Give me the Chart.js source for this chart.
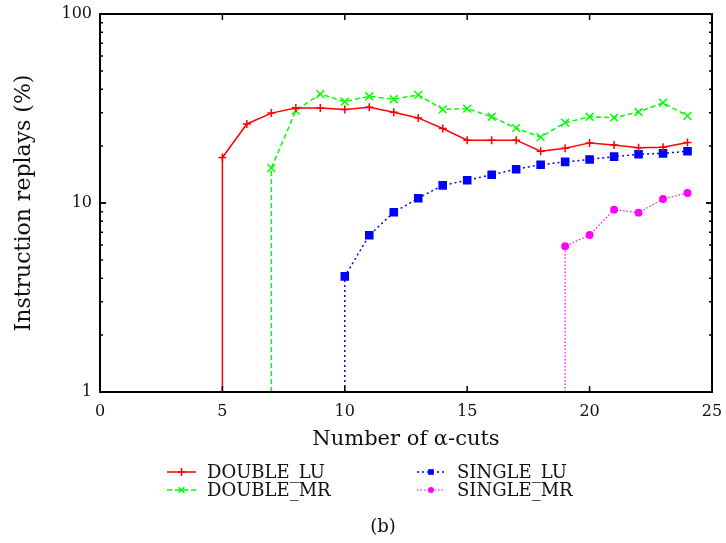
<!DOCTYPE html>
<html>
<head>
<meta charset="utf-8">
<script src="https://cdn.jsdelivr.net/npm/chart.js@4.4.1/dist/chart.umd.min.js"></script>
<style>
  html, body { margin: 0; padding: 0; background: #fff; }
  #wrap { width: 726px; height: 543px; }
</style>
</head>
<body>
<div id="wrap"><canvas id="chart"></canvas></div>
<script>
// number of alpha-cuts (x) and instruction replays in % (y), per configuration
const cutsDoubleLU = [5, 6, 7, 8, 9, 10, 11, 12, 13, 14, 15, 16, 17, 18, 19, 20, 21, 22, 23, 24];
const doubleLU = [17.4, 26.2, 29.9, 31.8, 31.8, 31.2, 32.1, 30.2, 28.2, 24.8, 21.5, 21.5, 21.5, 18.8, 19.5, 20.8, 20.3, 19.6, 19.7, 20.9];

const cutsDoubleMR = [7, 8, 9, 10, 11, 12, 13, 14, 15, 16, 17, 18, 19, 20, 21, 22, 23, 24];
const doubleMR = [15.3, 30.8, 37.7, 34.4, 36.7, 35.4, 37.3, 31.3, 31.6, 28.6, 24.9, 22.3, 26.6, 28.6, 28.3, 30.3, 33.9, 28.9];

const cutsSingleLU = [10, 11, 12, 13, 14, 15, 16, 17, 18, 19, 20, 21, 22, 23, 24];
const singleLU = [4.09, 6.75, 8.93, 10.6, 12.4, 13.2, 14.1, 15.1, 15.95, 16.5, 17.0, 17.6, 18.1, 18.3, 18.8];

const cutsSingleMR = [19, 20, 21, 22, 23, 24];
const singleMR = [5.9, 6.77, 9.22, 8.89, 10.5, 11.3];

// axes
const xTicks = [0, 5, 10, 15, 20, 25];
const yTicks = [1, 10, 100];
const Y_MIN = 1, Y_MAX = 100;

const FONT = '"DejaVu Serif", "Liberation Serif", serif';
const INK = '#111';

// gnuplot draws the zero values before the first cut as a drop to the bottom
function series(label, cuts, vals, color, style, radius, dash, width) {
  const pts = [{ x: cuts[0], y: Y_MIN }].concat(cuts.map((c, i) => ({ x: c, y: vals[i] })));
  return {
    label: label,
    data: pts,
    borderColor: color,
    backgroundColor: color,
    borderWidth: width,
    borderDash: dash,
    pointStyle: style,
    pointRadius: ctx => ctx.dataIndex === 0 ? 0 : radius,
    pointBorderWidth: 1.5,
    pointBorderColor: color,
    pointBackgroundColor: color,
    tension: 0,
    fill: false
  };
}

const datasets = [
  series('DOUBLE_LU', cutsDoubleLU, doubleLU, '#ff0000', 'cross', 4, [], 1.5),
  series('DOUBLE_MR', cutsDoubleMR, doubleMR, '#00ff00', 'crossRot', 5.5, [5, 3], 1.5),
  series('SINGLE_LU', cutsSingleLU, singleLU, '#0000ff', 'rect', 5, [2, 3], 1.5),
  series('SINGLE_MR', cutsSingleMR, singleMR, '#ff00ff', 'circle', 3.2, [1.5, 2], 1.2)
];

function drawMarker(ctx, style, x, y, r) {
  ctx.beginPath();
  if (style === 'cross') {
    ctx.moveTo(x - r, y); ctx.lineTo(x + r, y);
    ctx.moveTo(x, y - r); ctx.lineTo(x, y + r);
    ctx.stroke();
  } else if (style === 'crossRot') {
    const d = r * Math.SQRT1_2;
    ctx.moveTo(x - d, y - d); ctx.lineTo(x + d, y + d);
    ctx.moveTo(x - d, y + d); ctx.lineTo(x + d, y - d);
    ctx.stroke();
  } else if (style === 'rect') {
    const s = r * Math.SQRT1_2;
    ctx.fillRect(x - s, y - s, 2 * s, 2 * s);
  } else {
    ctx.arc(x, y, r, 0, Math.PI * 2);
    ctx.fill();
  }
}

// box with inward ticks on all four sides, like gnuplot
const framePlugin = {
  id: 'frame',
  afterDatasetsDraw(chart) {
    const { ctx, chartArea: a, scales } = chart;
    ctx.save();
    ctx.strokeStyle = '#000';
    ctx.lineWidth = 1.5;
    xTicks.forEach(v => {
      const px = scales.x.getPixelForValue(v);
      ctx.beginPath();
      ctx.moveTo(px, a.bottom); ctx.lineTo(px, a.bottom - 6);
      ctx.moveTo(px, a.top); ctx.lineTo(px, a.top + 6);
      ctx.stroke();
    });
    for (let dec = Y_MIN; dec < Y_MAX; dec *= 10) {
      for (let m = 1; m <= 10; m++) {
        const py = scales.y.getPixelForValue(dec * m);
        const len = (m === 1 || m === 10) ? 6 : 3;
        ctx.beginPath();
        ctx.moveTo(a.left, py); ctx.lineTo(a.left + len, py);
        ctx.moveTo(a.right, py); ctx.lineTo(a.right - len, py);
        ctx.stroke();
      }
    }
    ctx.lineWidth = 2;
    ctx.strokeRect(a.left, a.top, a.right - a.left, a.bottom - a.top);
    ctx.restore();
  }
};

// two-column key below the axis, then the sub-figure caption
const keyPlugin = {
  id: 'key',
  afterDraw(chart) {
    const { ctx } = chart;
    const cols = [{ x0: 167, x1: 196, tx: 207 }, { x0: 417, x1: 445, tx: 457 }];
    const rows = [472, 490];
    ctx.save();
    chart.data.datasets.forEach((ds, i) => {
      const c = cols[Math.floor(i / 2)], y = rows[i % 2];
      ctx.strokeStyle = ds.borderColor;
      ctx.fillStyle = ds.borderColor;
      ctx.lineWidth = ds.borderWidth;
      ctx.setLineDash(ds.borderDash);
      ctx.beginPath();
      ctx.moveTo(c.x0, y); ctx.lineTo(c.x1, y);
      ctx.stroke();
      ctx.setLineDash([]);
      ctx.lineWidth = 1.5;
      drawMarker(ctx, ds.pointStyle, (c.x0 + c.x1) / 2, y, ds.pointStyle === 'circle' ? 3 : 4);
      ctx.fillStyle = INK;
      ctx.font = '18px ' + FONT;
      ctx.textBaseline = 'middle';
      ctx.textAlign = 'left';
      ctx.fillText(ds.label, c.tx, y + 1);
    });
    ctx.font = '18px ' + FONT;
    ctx.textAlign = 'center';
    ctx.fillText('(b)', 383, 527);
    ctx.restore();
  }
};

new Chart(document.getElementById('chart'), {
  type: 'line',
  data: { datasets: datasets },
  options: {
    responsive: true,
    maintainAspectRatio: false,
    animation: false,
    layout: { padding: { left: 0, right: 14, top: 14, bottom: 89 } },
    plugins: {
      legend: { display: false },
      tooltip: { enabled: false }
    },
    scales: {
      x: {
        type: 'linear',
        min: 0,
        max: 25,
        afterBuildTicks: s => { s.ticks = xTicks.map(v => ({ value: v })); },
        afterFit: s => { s.height = 62; s.paddingLeft = 0; s.paddingRight = 0; },
        grid: { display: false, drawTicks: false },
        border: { display: false },
        ticks: { color: INK, padding: 10, maxRotation: 0, font: { family: FONT, size: 16 } },
        title: {
          display: true,
          text: 'Number of α-cuts',
          color: INK,
          padding: { top: 0, bottom: 2 },
          font: { family: FONT, size: 21 }
        }
      },
      y: {
        type: 'logarithmic',
        min: Y_MIN,
        max: Y_MAX,
        afterBuildTicks: s => { s.ticks = yTicks.map(v => ({ value: v })); },
        afterFit: s => { s.width = 100; s.paddingTop = 0; s.paddingBottom = 0; },
        grid: { display: false, drawTicks: false },
        border: { display: false },
        ticks: {
          color: INK,
          padding: 8,
          font: { family: FONT, size: 16 },
          callback: v => String(v)
        },
        title: {
          display: true,
          text: 'Instruction replays (%)',
          color: INK,
          padding: { top: 11, bottom: 0 },
          font: { family: FONT, size: 22 }
        }
      }
    }
  },
  plugins: [framePlugin, keyPlugin]
});
</script>
</body>
</html>
